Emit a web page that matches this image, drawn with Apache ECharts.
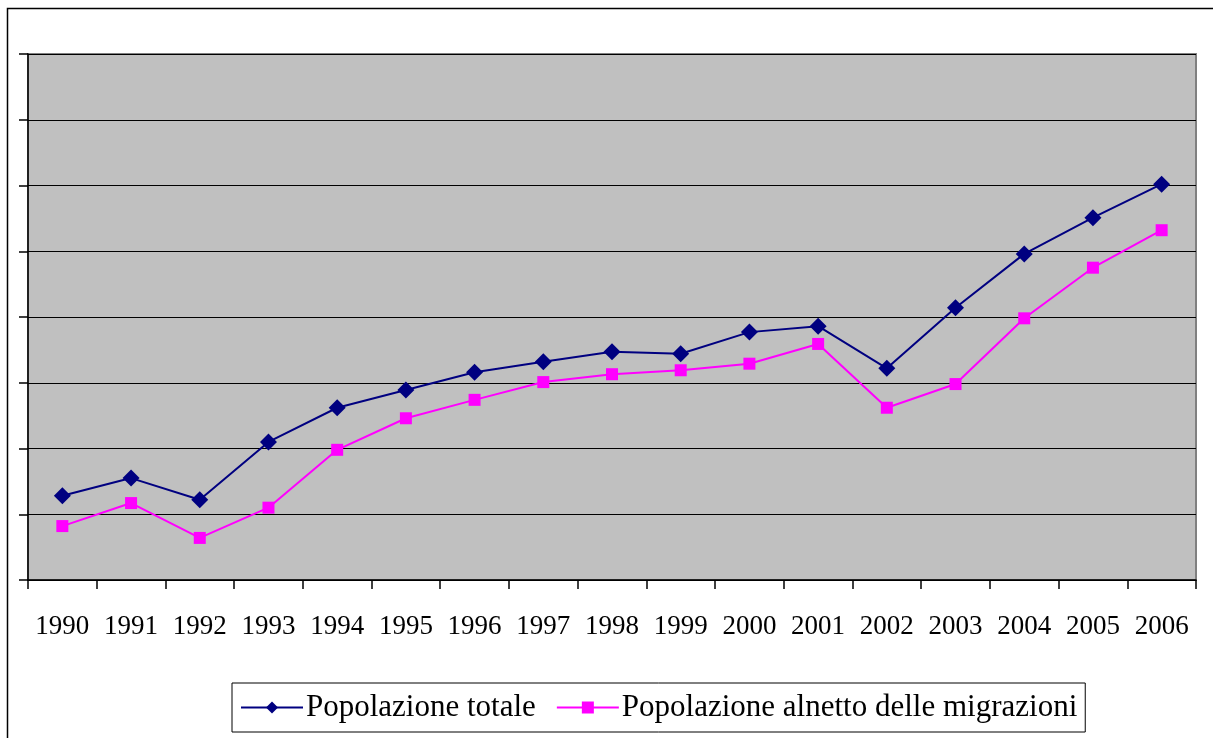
<!DOCTYPE html>
<html>
<head>
<meta charset="utf-8">
<script src="https://cdn.jsdelivr.net/npm/echarts@6/dist/echarts.min.js"></script>
<style>
  html, body { margin: 0; padding: 0; background: #fff; }
  #chart { width: 1213px; height: 738px; }
</style>
</head>
<body>
<div id="chart"></div>
<script>
// anni
let years = ['1990', '1991', '1992', '1993', '1994', '1995', '1996', '1997', '1998',
    '1999', '2000', '2001', '2002', '2003', '2004', '2005', '2006'];
// valori (scala senza etichette, 0-8)
let popTotale = [1.28, 1.55, 1.22, 2.10, 2.62, 2.89, 3.16, 3.32, 3.47,
    3.44, 3.77, 3.86, 3.22, 4.14, 4.96, 5.51, 6.02];
let popNetto = [0.82, 1.17, 0.64, 1.10, 1.98, 2.46, 2.74, 3.01, 3.13,
    3.19, 3.29, 3.59, 2.62, 2.98, 3.98, 4.75, 5.32];

let myChart = echarts.init(document.getElementById('chart'));
let fontFam = '"Liberation Serif", "DejaVu Serif", serif';

let option = {
    animation: false,
    backgroundColor: '#fff',
    graphic: [{
        type: 'rect',
        shape: { x: 7.5, y: 8.5, width: 1400, height: 900 },
        style: { fill: 'none', stroke: '#000', lineWidth: 1.5 },
        silent: true
    }],
    grid: {
        left: 28,
        right: 17,
        top: 54,
        bottom: 158,
        show: true,
        backgroundColor: '#c0c0c0',
        borderColor: '#808080',
        borderWidth: 2
    },
    legend: {
        left: 232,
        top: 683,
        padding: [9, 8, 9, 8],
        itemGap: 20,
        itemWidth: 62,
        itemHeight: 15,
        borderColor: '#000',
        borderWidth: 1,
        backgroundColor: '#fff',
        textStyle: { fontFamily: fontFam, fontSize: 31, color: '#000', padding: [0, 0, 0, -2] },
        data: ['Popolazione totale', 'Popolazione alnetto delle migrazioni']
    },
    xAxis: {
        type: 'category',
        data: years,
        boundaryGap: true,
        axisLine: { lineStyle: { color: '#000', width: 1.5 } },
        axisTick: { show: true, interval: 0, length: 9, lineStyle: { color: '#000', width: 1.5 } },
        axisLabel: { interval: 0, margin: 33, fontFamily: fontFam, fontSize: 27, color: '#000' },
        splitLine: { show: false }
    },
    yAxis: {
        type: 'value',
        min: 0,
        max: 8,
        interval: 1,
        axisLine: { show: true, lineStyle: { color: '#000', width: 1.5 } },
        axisTick: { show: true, length: 9, lineStyle: { color: '#000', width: 1.5 } },
        axisLabel: { show: false },
        splitLine: { lineStyle: { color: '#000', width: 1 } }
    },
    series: [{
        name: 'Popolazione totale',
        type: 'line',
        data: popTotale,
        symbol: 'diamond',
        symbolSize: 17,
        color: '#000080',
        lineStyle: { color: '#000080', width: 2 },
        itemStyle: { color: '#000080' }
    }, {
        name: 'Popolazione alnetto delle migrazioni',
        type: 'line',
        data: popNetto,
        symbol: 'rect',
        symbolSize: 12,
        color: '#ff00ff',
        lineStyle: { color: '#ff00ff', width: 2 },
        itemStyle: { color: '#ff00ff' }
    }]
};

if (option && typeof option === 'object') {
    myChart.setOption(option, true);
}
</script>
</body>
</html>
